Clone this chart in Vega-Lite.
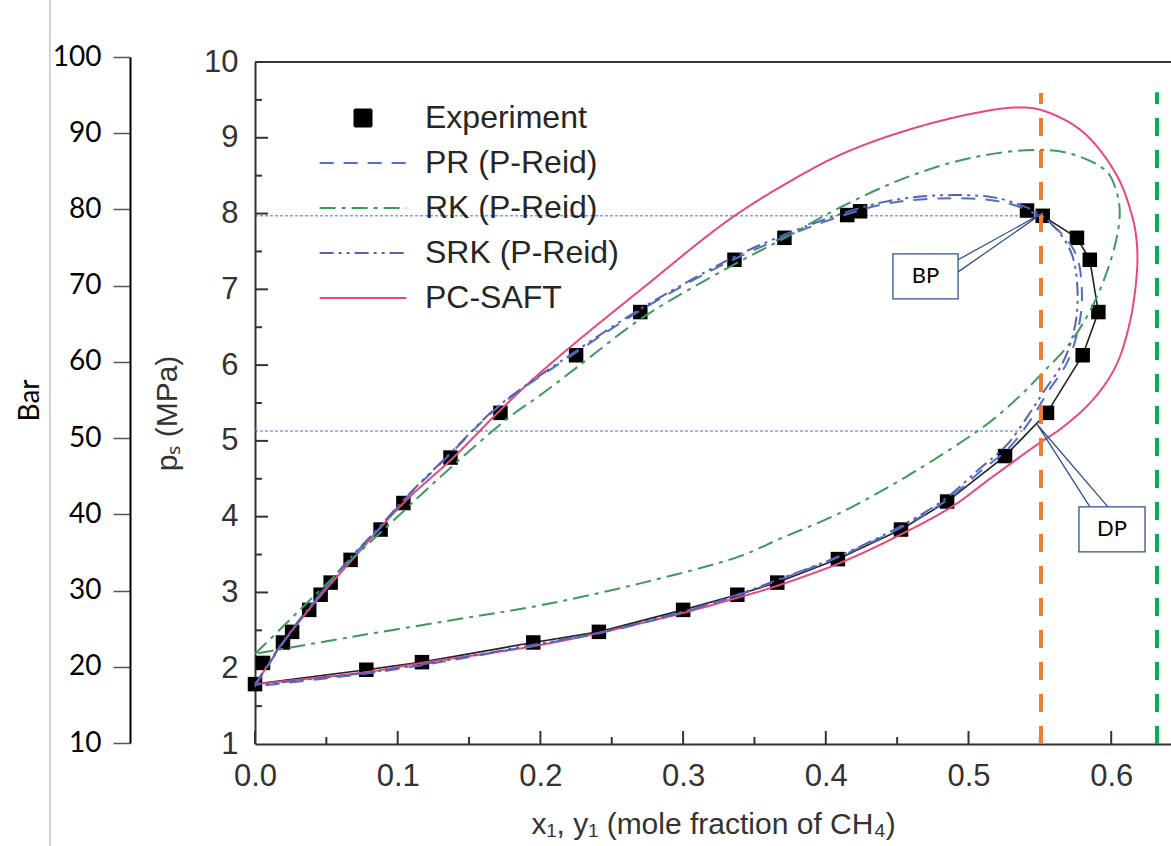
{
  "$schema": "https://vega.github.io/schema/vega-lite/v6.json",
  "width": 916,
  "height": 682,
  "autosize": {"type": "none"},
  "padding": {"left": 255, "top": 62, "right": 0, "bottom": 102},
  "background": "white",
  "config": {"view": {"stroke": null}, "font": "Liberation Sans"},
  "datasets": {
    "curves": [
      {"model": "PC-SAFT", "i": 0, "x": 0, "p": 1.79},
      {"model": "PC-SAFT", "i": 1, "x": 0.0084, "p": 2.02},
      {"model": "PC-SAFT", "i": 2, "x": 0.0196, "p": 2.34},
      {"model": "PC-SAFT", "i": 3, "x": 0.0434, "p": 2.9},
      {"model": "PC-SAFT", "i": 4, "x": 0.0666, "p": 3.4},
      {"model": "PC-SAFT", "i": 5, "x": 0.104, "p": 4.18},
      {"model": "PC-SAFT", "i": 6, "x": 0.139, "p": 4.78},
      {"model": "PC-SAFT", "i": 7, "x": 0.17, "p": 5.37},
      {"model": "PC-SAFT", "i": 8, "x": 0.194, "p": 5.8},
      {"model": "PC-SAFT", "i": 9, "x": 0.221, "p": 6.24},
      {"model": "PC-SAFT", "i": 10, "x": 0.27, "p": 6.99},
      {"model": "PC-SAFT", "i": 11, "x": 0.333, "p": 7.93},
      {"model": "PC-SAFT", "i": 12, "x": 0.38, "p": 8.48},
      {"model": "PC-SAFT", "i": 13, "x": 0.413, "p": 8.8},
      {"model": "PC-SAFT", "i": 14, "x": 0.457, "p": 9.1},
      {"model": "PC-SAFT", "i": 15, "x": 0.503, "p": 9.32},
      {"model": "PC-SAFT", "i": 16, "x": 0.534, "p": 9.4},
      {"model": "PC-SAFT", "i": 17, "x": 0.552, "p": 9.36},
      {"model": "PC-SAFT", "i": 18, "x": 0.58, "p": 9.08},
      {"model": "PC-SAFT", "i": 19, "x": 0.604, "p": 8.5},
      {"model": "PC-SAFT", "i": 20, "x": 0.615, "p": 7.94},
      {"model": "PC-SAFT", "i": 21, "x": 0.618, "p": 7.6},
      {"model": "PC-SAFT", "i": 22, "x": 0.618, "p": 7.22},
      {"model": "PC-SAFT", "i": 23, "x": 0.613, "p": 6.56},
      {"model": "PC-SAFT", "i": 24, "x": 0.603, "p": 5.98},
      {"model": "PC-SAFT", "i": 25, "x": 0.587, "p": 5.54},
      {"model": "PC-SAFT", "i": 26, "x": 0.566, "p": 5.18},
      {"model": "PC-SAFT", "i": 27, "x": 0.548, "p": 4.95},
      {"model": "PC-SAFT", "i": 28, "x": 0.515, "p": 4.5},
      {"model": "PC-SAFT", "i": 29, "x": 0.489, "p": 4.14},
      {"model": "PC-SAFT", "i": 30, "x": 0.452, "p": 3.76},
      {"model": "PC-SAFT", "i": 31, "x": 0.41, "p": 3.39},
      {"model": "PC-SAFT", "i": 32, "x": 0.363, "p": 3.07},
      {"model": "PC-SAFT", "i": 33, "x": 0.338, "p": 2.93},
      {"model": "PC-SAFT", "i": 34, "x": 0.3, "p": 2.73},
      {"model": "PC-SAFT", "i": 35, "x": 0.242, "p": 2.47},
      {"model": "PC-SAFT", "i": 36, "x": 0.195, "p": 2.29},
      {"model": "PC-SAFT", "i": 37, "x": 0.117, "p": 2.07},
      {"model": "PC-SAFT", "i": 38, "x": 0.0785, "p": 1.95},
      {"model": "PC-SAFT", "i": 39, "x": 0, "p": 1.79},
      {"model": "PR (P-Reid)", "i": 0, "x": 0, "p": 1.76},
      {"model": "PR (P-Reid)", "i": 1, "x": 0.0196, "p": 2.33},
      {"model": "PR (P-Reid)", "i": 2, "x": 0.046, "p": 2.98},
      {"model": "PR (P-Reid)", "i": 3, "x": 0.067, "p": 3.45},
      {"model": "PR (P-Reid)", "i": 4, "x": 0.088, "p": 3.86},
      {"model": "PR (P-Reid)", "i": 5, "x": 0.104, "p": 4.21},
      {"model": "PR (P-Reid)", "i": 6, "x": 0.137, "p": 4.83},
      {"model": "PR (P-Reid)", "i": 7, "x": 0.17, "p": 5.44},
      {"model": "PR (P-Reid)", "i": 8, "x": 0.226, "p": 6.18},
      {"model": "PR (P-Reid)", "i": 9, "x": 0.27, "p": 6.72},
      {"model": "PR (P-Reid)", "i": 10, "x": 0.31, "p": 7.15},
      {"model": "PR (P-Reid)", "i": 11, "x": 0.336, "p": 7.4},
      {"model": "PR (P-Reid)", "i": 12, "x": 0.371, "p": 7.69},
      {"model": "PR (P-Reid)", "i": 13, "x": 0.413, "p": 7.98},
      {"model": "PR (P-Reid)", "i": 14, "x": 0.445, "p": 8.14},
      {"model": "PR (P-Reid)", "i": 15, "x": 0.48, "p": 8.2},
      {"model": "PR (P-Reid)", "i": 16, "x": 0.515, "p": 8.18},
      {"model": "PR (P-Reid)", "i": 17, "x": 0.534, "p": 8.1},
      {"model": "PR (P-Reid)", "i": 18, "x": 0.55, "p": 7.96},
      {"model": "PR (P-Reid)", "i": 19, "x": 0.566, "p": 7.72},
      {"model": "PR (P-Reid)", "i": 20, "x": 0.576, "p": 7.43},
      {"model": "PR (P-Reid)", "i": 21, "x": 0.5795, "p": 6.9},
      {"model": "PR (P-Reid)", "i": 22, "x": 0.5767, "p": 6.46},
      {"model": "PR (P-Reid)", "i": 23, "x": 0.569, "p": 6.03},
      {"model": "PR (P-Reid)", "i": 24, "x": 0.555, "p": 5.63},
      {"model": "PR (P-Reid)", "i": 25, "x": 0.545, "p": 5.32},
      {"model": "PR (P-Reid)", "i": 26, "x": 0.529, "p": 4.92},
      {"model": "PR (P-Reid)", "i": 27, "x": 0.5085, "p": 4.6},
      {"model": "PR (P-Reid)", "i": 28, "x": 0.4849, "p": 4.22},
      {"model": "PR (P-Reid)", "i": 29, "x": 0.452, "p": 3.85},
      {"model": "PR (P-Reid)", "i": 30, "x": 0.408, "p": 3.46},
      {"model": "PR (P-Reid)", "i": 31, "x": 0.368, "p": 3.17},
      {"model": "PR (P-Reid)", "i": 32, "x": 0.338, "p": 2.96},
      {"model": "PR (P-Reid)", "i": 33, "x": 0.3, "p": 2.74},
      {"model": "PR (P-Reid)", "i": 34, "x": 0.241, "p": 2.46},
      {"model": "PR (P-Reid)", "i": 35, "x": 0.195, "p": 2.3},
      {"model": "PR (P-Reid)", "i": 36, "x": 0.117, "p": 2.04},
      {"model": "PR (P-Reid)", "i": 37, "x": 0.078, "p": 1.93},
      {"model": "PR (P-Reid)", "i": 38, "x": 0, "p": 1.76},
      {"model": "SRK (P-Reid)", "i": 0, "x": 0, "p": 1.78},
      {"model": "SRK (P-Reid)", "i": 1, "x": 0.0196, "p": 2.35},
      {"model": "SRK (P-Reid)", "i": 2, "x": 0.046, "p": 2.99},
      {"model": "SRK (P-Reid)", "i": 3, "x": 0.067, "p": 3.46},
      {"model": "SRK (P-Reid)", "i": 4, "x": 0.088, "p": 3.88},
      {"model": "SRK (P-Reid)", "i": 5, "x": 0.104, "p": 4.22},
      {"model": "SRK (P-Reid)", "i": 6, "x": 0.137, "p": 4.84},
      {"model": "SRK (P-Reid)", "i": 7, "x": 0.17, "p": 5.45},
      {"model": "SRK (P-Reid)", "i": 8, "x": 0.226, "p": 6.2},
      {"model": "SRK (P-Reid)", "i": 9, "x": 0.27, "p": 6.74},
      {"model": "SRK (P-Reid)", "i": 10, "x": 0.31, "p": 7.17},
      {"model": "SRK (P-Reid)", "i": 11, "x": 0.336, "p": 7.43},
      {"model": "SRK (P-Reid)", "i": 12, "x": 0.371, "p": 7.72},
      {"model": "SRK (P-Reid)", "i": 13, "x": 0.413, "p": 8.01},
      {"model": "SRK (P-Reid)", "i": 14, "x": 0.445, "p": 8.17},
      {"model": "SRK (P-Reid)", "i": 15, "x": 0.48, "p": 8.24},
      {"model": "SRK (P-Reid)", "i": 16, "x": 0.515, "p": 8.22},
      {"model": "SRK (P-Reid)", "i": 17, "x": 0.534, "p": 8.13},
      {"model": "SRK (P-Reid)", "i": 18, "x": 0.55, "p": 7.99},
      {"model": "SRK (P-Reid)", "i": 19, "x": 0.564, "p": 7.74},
      {"model": "SRK (P-Reid)", "i": 20, "x": 0.573, "p": 7.43},
      {"model": "SRK (P-Reid)", "i": 21, "x": 0.5765, "p": 6.9},
      {"model": "SRK (P-Reid)", "i": 22, "x": 0.574, "p": 6.46},
      {"model": "SRK (P-Reid)", "i": 23, "x": 0.566, "p": 6.03},
      {"model": "SRK (P-Reid)", "i": 24, "x": 0.552, "p": 5.63},
      {"model": "SRK (P-Reid)", "i": 25, "x": 0.542, "p": 5.34},
      {"model": "SRK (P-Reid)", "i": 26, "x": 0.527, "p": 4.95},
      {"model": "SRK (P-Reid)", "i": 27, "x": 0.507, "p": 4.62},
      {"model": "SRK (P-Reid)", "i": 28, "x": 0.484, "p": 4.24},
      {"model": "SRK (P-Reid)", "i": 29, "x": 0.451, "p": 3.86},
      {"model": "SRK (P-Reid)", "i": 30, "x": 0.408, "p": 3.47},
      {"model": "SRK (P-Reid)", "i": 31, "x": 0.368, "p": 3.18},
      {"model": "SRK (P-Reid)", "i": 32, "x": 0.338, "p": 2.97},
      {"model": "SRK (P-Reid)", "i": 33, "x": 0.3, "p": 2.75},
      {"model": "SRK (P-Reid)", "i": 34, "x": 0.241, "p": 2.47},
      {"model": "SRK (P-Reid)", "i": 35, "x": 0.195, "p": 2.31},
      {"model": "SRK (P-Reid)", "i": 36, "x": 0.117, "p": 2.05},
      {"model": "SRK (P-Reid)", "i": 37, "x": 0.078, "p": 1.94},
      {"model": "SRK (P-Reid)", "i": 38, "x": 0, "p": 1.78},
      {"model": "RK (P-Reid)", "i": 0, "x": 0, "p": 2.19},
      {"model": "RK (P-Reid)", "i": 1, "x": 0.0196, "p": 2.55},
      {"model": "RK (P-Reid)", "i": 2, "x": 0.0385, "p": 2.9},
      {"model": "RK (P-Reid)", "i": 3, "x": 0.067, "p": 3.42},
      {"model": "RK (P-Reid)", "i": 4, "x": 0.1016, "p": 4.03},
      {"model": "RK (P-Reid)", "i": 5, "x": 0.1366, "p": 4.64},
      {"model": "RK (P-Reid)", "i": 6, "x": 0.1787, "p": 5.32},
      {"model": "RK (P-Reid)", "i": 7, "x": 0.1997, "p": 5.6},
      {"model": "RK (P-Reid)", "i": 8, "x": 0.2256, "p": 5.97},
      {"model": "RK (P-Reid)", "i": 9, "x": 0.2719, "p": 6.63},
      {"model": "RK (P-Reid)", "i": 10, "x": 0.333, "p": 7.3},
      {"model": "RK (P-Reid)", "i": 11, "x": 0.3714, "p": 7.68},
      {"model": "RK (P-Reid)", "i": 12, "x": 0.41, "p": 8.08},
      {"model": "RK (P-Reid)", "i": 13, "x": 0.457, "p": 8.48},
      {"model": "RK (P-Reid)", "i": 14, "x": 0.503, "p": 8.74},
      {"model": "RK (P-Reid)", "i": 15, "x": 0.55, "p": 8.84},
      {"model": "RK (P-Reid)", "i": 16, "x": 0.575, "p": 8.77},
      {"model": "RK (P-Reid)", "i": 17, "x": 0.597, "p": 8.55},
      {"model": "RK (P-Reid)", "i": 18, "x": 0.604, "p": 8.27},
      {"model": "RK (P-Reid)", "i": 19, "x": 0.606, "p": 8.0},
      {"model": "RK (P-Reid)", "i": 20, "x": 0.603, "p": 7.61},
      {"model": "RK (P-Reid)", "i": 21, "x": 0.594, "p": 7.08},
      {"model": "RK (P-Reid)", "i": 22, "x": 0.583, "p": 6.64},
      {"model": "RK (P-Reid)", "i": 23, "x": 0.569, "p": 6.24},
      {"model": "RK (P-Reid)", "i": 24, "x": 0.554, "p": 5.94},
      {"model": "RK (P-Reid)", "i": 25, "x": 0.538, "p": 5.63},
      {"model": "RK (P-Reid)", "i": 26, "x": 0.515, "p": 5.25},
      {"model": "RK (P-Reid)", "i": 27, "x": 0.461, "p": 4.58},
      {"model": "RK (P-Reid)", "i": 28, "x": 0.41, "p": 4.05},
      {"model": "RK (P-Reid)", "i": 29, "x": 0.368, "p": 3.71},
      {"model": "RK (P-Reid)", "i": 30, "x": 0.34, "p": 3.48},
      {"model": "RK (P-Reid)", "i": 31, "x": 0.27, "p": 3.12},
      {"model": "RK (P-Reid)", "i": 32, "x": 0.2, "p": 2.83},
      {"model": "RK (P-Reid)", "i": 33, "x": 0.1367, "p": 2.63},
      {"model": "RK (P-Reid)", "i": 34, "x": 0.0666, "p": 2.41},
      {"model": "RK (P-Reid)", "i": 35, "x": 0, "p": 2.19}
    ],
    "experiment": [
      {"model": "Experiment", "branch": "dew", "i": 0, "x": 0, "p": 1.79},
      {"model": "Experiment", "branch": "bubble", "i": 0, "x": 0.0056, "p": 2.07},
      {"model": "Experiment", "branch": "bubble", "i": 0, "x": 0.0196, "p": 2.34},
      {"model": "Experiment", "branch": "bubble", "i": 0, "x": 0.026, "p": 2.48},
      {"model": "Experiment", "branch": "bubble", "i": 0, "x": 0.038, "p": 2.77},
      {"model": "Experiment", "branch": "bubble", "i": 0, "x": 0.046, "p": 2.97},
      {"model": "Experiment", "branch": "bubble", "i": 0, "x": 0.053, "p": 3.13},
      {"model": "Experiment", "branch": "bubble", "i": 0, "x": 0.067, "p": 3.43},
      {"model": "Experiment", "branch": "bubble", "i": 0, "x": 0.088, "p": 3.83},
      {"model": "Experiment", "branch": "bubble", "i": 0, "x": 0.104, "p": 4.18},
      {"model": "Experiment", "branch": "bubble", "i": 0, "x": 0.137, "p": 4.78},
      {"model": "Experiment", "branch": "bubble", "i": 0, "x": 0.172, "p": 5.37},
      {"model": "Experiment", "branch": "bubble", "i": 0, "x": 0.225, "p": 6.13},
      {"model": "Experiment", "branch": "bubble", "i": 0, "x": 0.27, "p": 6.7},
      {"model": "Experiment", "branch": "bubble", "i": 0, "x": 0.336, "p": 7.39},
      {"model": "Experiment", "branch": "bubble", "i": 0, "x": 0.371, "p": 7.68},
      {"model": "Experiment", "branch": "bubble", "i": 0, "x": 0.415, "p": 7.98},
      {"model": "Experiment", "branch": "bubble", "i": 0, "x": 0.424, "p": 8.03},
      {"model": "Experiment", "branch": "bubble", "i": 0, "x": 0.541, "p": 8.04},
      {"model": "Experiment", "branch": "dew", "i": 1, "x": 0.078, "p": 1.98},
      {"model": "Experiment", "branch": "dew", "i": 2, "x": 0.117, "p": 2.08},
      {"model": "Experiment", "branch": "dew", "i": 3, "x": 0.195, "p": 2.34},
      {"model": "Experiment", "branch": "dew", "i": 4, "x": 0.241, "p": 2.48},
      {"model": "Experiment", "branch": "dew", "i": 5, "x": 0.3, "p": 2.77},
      {"model": "Experiment", "branch": "dew", "i": 6, "x": 0.338, "p": 2.97},
      {"model": "Experiment", "branch": "dew", "i": 7, "x": 0.366, "p": 3.13},
      {"model": "Experiment", "branch": "dew", "i": 8, "x": 0.4085, "p": 3.44},
      {"model": "Experiment", "branch": "dew", "i": 9, "x": 0.4527, "p": 3.83},
      {"model": "Experiment", "branch": "dew", "i": 10, "x": 0.485, "p": 4.2},
      {"model": "Experiment", "branch": "dew", "i": 11, "x": 0.5256, "p": 4.8},
      {"model": "Experiment", "branch": "dew", "i": 12, "x": 0.555, "p": 5.37},
      {"model": "Experiment", "branch": "dew", "i": 13, "x": 0.58, "p": 6.13},
      {"model": "Experiment", "branch": "dew", "i": 14, "x": 0.591, "p": 6.7},
      {"model": "Experiment", "branch": "dew", "i": 15, "x": 0.585, "p": 7.39},
      {"model": "Experiment", "branch": "dew", "i": 16, "x": 0.576, "p": 7.68},
      {"model": "Experiment", "branch": "dew", "i": 17, "x": 0.552, "p": 7.97}
    ],
    "hlines": [
      {"x": 0, "xe": 0.552, "p": 7.97},
      {"x": 0, "xe": 0.54, "p": 5.13}
    ],
    "vlines": [
      {"line": "orange", "x": 0.5508, "p": 1, "pe": 9.59},
      {"line": "green", "x": 0.6321, "p": 1, "pe": 9.6}
    ],
    "frame": [{"x": 0, "xe": 0.6419, "p": 10}],
    "edge": [{"x": -0.1437, "p": 10.82, "pe": -0.35}],
    "callouts": [
      {"note": "BP", "i": 0, "x": 0.4927, "p": 7.39},
      {"note": "BP", "i": 1, "x": 0.5522, "p": 8.01},
      {"note": "BP", "i": 2, "x": 0.4927, "p": 7.23},
      {"note": "DP", "i": 0, "x": 0.5851, "p": 4.13},
      {"note": "DP", "i": 1, "x": 0.548, "p": 5.22},
      {"note": "DP", "i": 2, "x": 0.5977, "p": 4.13}
    ],
    "boxes": [
      {"note": "BP", "x": 0.447, "xe": 0.4927, "p": 6.873, "pe": 7.467},
      {"note": "DP", "x": 0.5774, "xe": 0.6237, "p": 3.536, "pe": 4.13}
    ],
    "labels": [
      {"note": "BP", "x": 0.4699, "p": 7.17},
      {"note": "DP", "x": 0.6006, "p": 3.833}
    ],
    "barTicks": [{"bar": 10}, {"bar": 100}],
    "xTicks": [
      {"x": 0, "p": 1, "kind": "major"}, {"x": 0.05, "p": 1, "kind": "minor"},
      {"x": 0.1, "p": 1, "kind": "major"}, {"x": 0.15, "p": 1, "kind": "minor"},
      {"x": 0.2, "p": 1, "kind": "major"}, {"x": 0.25, "p": 1, "kind": "minor"},
      {"x": 0.3, "p": 1, "kind": "major"}, {"x": 0.35, "p": 1, "kind": "minor"},
      {"x": 0.4, "p": 1, "kind": "major"}, {"x": 0.45, "p": 1, "kind": "minor"},
      {"x": 0.5, "p": 1, "kind": "major"}, {"x": 0.55, "p": 1, "kind": "minor"},
      {"x": 0.6, "p": 1, "kind": "major"}
    ],
    "yTicks": [
      {"x": 0, "p": 1.5, "kind": "minor"}, {"x": 0, "p": 2, "kind": "major"},
      {"x": 0, "p": 2.5, "kind": "minor"}, {"x": 0, "p": 3, "kind": "major"},
      {"x": 0, "p": 3.5, "kind": "minor"}, {"x": 0, "p": 4, "kind": "major"},
      {"x": 0, "p": 4.5, "kind": "minor"}, {"x": 0, "p": 5, "kind": "major"},
      {"x": 0, "p": 5.5, "kind": "minor"}, {"x": 0, "p": 6, "kind": "major"},
      {"x": 0, "p": 6.5, "kind": "minor"}, {"x": 0, "p": 7, "kind": "major"},
      {"x": 0, "p": 7.5, "kind": "minor"}, {"x": 0, "p": 8, "kind": "major"},
      {"x": 0, "p": 8.5, "kind": "minor"}, {"x": 0, "p": 9, "kind": "major"},
      {"x": 0, "p": 9.5, "kind": "minor"}
    ]
  },
  "layer": [
    {
      "encoding": {
        "x": {
          "field": "x", "type": "quantitative",
          "scale": {"domain": [0, 0.6419], "nice": false, "zero": false},
          "axis": {
            "values": [0, 0.1, 0.2, 0.3, 0.4, 0.5, 0.6],
            "format": ".1f",
            "ticks": false,
            "domainColor": "#333333", "domainWidth": 2,
            "labelFont": "Liberation Sans", "labelFontSize": 31, "labelColor": "#333333",
            "labelPadding": 17, "labelFlush": false, "labelOverlap": false,
            "grid": false,
            "title": "x₁, y₁ (mole fraction of CH₄)",
            "titleFont": "Liberation Sans", "titleFontSize": 30, "titleFontWeight": "normal",
            "titleColor": "#333333", "titleY": 89, "titleBaseline": "alphabetic"
          }
        },
        "y": {
          "field": "p", "type": "quantitative",
          "scale": {"domain": [1, 10], "nice": false, "zero": false},
          "axis": {
            "values": [1, 2, 3, 4, 5, 6, 7, 8, 9, 10],
            "format": "d",
            "ticks": false,
            "domainColor": "#333333", "domainWidth": 2,
            "labelFont": "Liberation Sans", "labelFontSize": 31, "labelColor": "#333333",
            "labelPadding": 17, "labelFlush": false, "labelOverlap": false,
            "grid": false,
            "title": "pₛ (MPa)",
            "titleFont": "Liberation Sans", "titleFontSize": 30, "titleFontWeight": "normal",
            "titleColor": "#333333", "titleX": -88, "titleY": 351, "titleBaseline": "middle"
          }
        }
      },
      "layer": [
        {
          "data": {"name": "edge"},
          "mark": {"type": "rule", "color": "#c4c4c4", "strokeWidth": 1.5, "clip": false},
          "encoding": {"y2": {"field": "pe"}}
        },
        {
          "data": {"name": "frame"},
          "mark": {"type": "rule", "color": "#333333", "strokeWidth": 2, "clip": false},
          "encoding": {"x2": {"field": "xe"}}
        },
        {
          "data": {"name": "xTicks"},
          "transform": [{"filter": "datum.kind === 'major'"}],
          "mark": {"type": "tick", "orient": "vertical", "size": 13, "thickness": 2, "yOffset": -6.5, "color": "#333333", "opacity": 1},
          "encoding": {}
        },
        {
          "data": {"name": "xTicks"},
          "transform": [{"filter": "datum.kind === 'minor'"}],
          "mark": {"type": "tick", "orient": "vertical", "size": 7, "thickness": 2, "yOffset": -3.5, "color": "#333333", "opacity": 1},
          "encoding": {}
        },
        {
          "data": {"name": "yTicks"},
          "transform": [{"filter": "datum.kind === 'major'"}],
          "mark": {"type": "tick", "orient": "horizontal", "size": 13, "thickness": 2, "xOffset": 6.5, "color": "#333333", "opacity": 1},
          "encoding": {}
        },
        {
          "data": {"name": "yTicks"},
          "transform": [{"filter": "datum.kind === 'minor'"}],
          "mark": {"type": "tick", "orient": "horizontal", "size": 7, "thickness": 2, "xOffset": 3.5, "color": "#333333", "opacity": 1},
          "encoding": {}
        },
        {
          "data": {"name": "hlines"},
          "mark": {"type": "rule", "color": "#4472c4", "strokeWidth": 1, "strokeDash": [3, 2]},
          "encoding": {"x2": {"field": "xe"}}
        },
        {
          "data": {"name": "experiment"},
          "transform": [{"filter": "datum.branch === 'dew'"}],
          "mark": {"type": "line", "color": "#222222", "strokeWidth": 1.6},
          "encoding": {"order": {"field": "i", "type": "quantitative"}}
        },
        {
          "data": {"name": "experiment"},
          "mark": {"type": "point", "shape": "square", "filled": true, "size": 210, "opacity": 1},
          "encoding": {
            "color": {"field": "model", "type": "nominal"}
          }
        },
        {
          "data": {"name": "curves"},
          "mark": {"type": "line", "strokeWidth": 2, "strokeCap": "butt", "interpolate": "catmull-rom"},
          "encoding": {
            "order": {"field": "i", "type": "quantitative"},
            "color": {
              "field": "model", "type": "nominal",
              "scale": {
                "domain": ["Experiment", "PR (P-Reid)", "RK (P-Reid)", "SRK (P-Reid)", "PC-SAFT"],
                "range": ["#000000", "#4a72c8", "#3c9a5c", "#5c5fb0", "#e8467c"]
              },
              "legend": {
                "orient": "none", "legendX": 92, "legendY": 40,
                "title": null, "padding": 0,
                "labelFont": "Liberation Sans", "labelFontSize": 32, "labelColor": "#262626",
                "labelOffset": 46, "labelLimit": 400,
                "symbolSize": 289, "symbolStrokeWidth": 2, "rowPadding": 13,
                "encode": {
                  "symbols": {
                    "update": {
                      "shape": {"signal": "datum.value === 'Experiment' ? 'square' : 'M-5.1,0H5.1'"},
                      "fill": {"signal": "datum.value === 'Experiment' ? '#000000' : 'transparent'"},
                      "stroke": {"signal": "datum.value === 'Experiment' ? 'transparent' : datum.value === 'PR (P-Reid)' ? '#4a72c8' : datum.value === 'RK (P-Reid)' ? '#3c9a5c' : datum.value === 'SRK (P-Reid)' ? '#5c5fb0' : '#e8467c'"},
                      "strokeDash": {"signal": "datum.value === 'PR (P-Reid)' ? [14, 10] : datum.value === 'RK (P-Reid)' ? [16, 6, 4, 6] : datum.value === 'SRK (P-Reid)' ? [14, 5, 3, 5, 3, 5] : [1, 0]"},
                      "strokeWidth": {"value": 2},
                      "opacity": {"value": 1}
                    }
                  }
                }
              }
            },
            "strokeDash": {
              "field": "model", "type": "nominal",
              "scale": {
                "domain": ["PR (P-Reid)", "RK (P-Reid)", "SRK (P-Reid)", "PC-SAFT"],
                "range": [[14, 10], [16, 6, 4, 6], [14, 5, 3, 5, 3, 5], [1, 0]]
              },
              "legend": null
            }
          }
        },
        {
          "data": {"name": "vlines"},
          "transform": [{"filter": "datum.line === 'orange'"}],
          "mark": {"type": "rule", "color": "#ed7d31", "strokeWidth": 4, "strokeDash": [18, 14]},
          "encoding": {"y2": {"field": "pe"}}
        },
        {
          "data": {"name": "vlines"},
          "transform": [{"filter": "datum.line === 'green'"}],
          "mark": {"type": "rule", "color": "#00b050", "strokeWidth": 4, "strokeDash": [18, 14]},
          "encoding": {"y2": {"field": "pe"}}
        },
        {
          "data": {"name": "callouts"},
          "mark": {"type": "line", "color": "#2f528f", "strokeWidth": 1.3},
          "encoding": {
            "order": {"field": "i", "type": "quantitative"},
            "detail": {"field": "note", "type": "nominal"}
          }
        },
        {
          "data": {"name": "boxes"},
          "mark": {"type": "rect", "fill": "white", "stroke": "#2f528f", "strokeWidth": 1.3},
          "encoding": {"x2": {"field": "xe"}, "y2": {"field": "pe"}}
        },
        {
          "data": {"name": "labels"},
          "mark": {"type": "text", "font": "Lato", "fontSize": 22, "color": "#000000", "align": "center", "baseline": "middle"},
          "encoding": {"text": {"field": "note", "type": "nominal"}}
        }
      ]
    },
    {
      "data": {"name": "barTicks"},
      "mark": {"type": "point", "opacity": 0},
      "encoding": {
        "y": {
          "field": "bar", "type": "quantitative",
          "scale": {"domain": [10, 100], "range": [681, -5], "nice": false, "zero": false},
          "axis": {
            "orient": "left", "offset": 125,
            "values": [10, 20, 30, 40, 50, 60, 70, 80, 90, 100],
            "tickSize": 17, "tickColor": "#555555", "tickWidth": 1.5,
            "domainColor": "#000000", "domainWidth": 2,
            "labelFont": "Lato", "labelFontSize": 28, "labelColor": "#000000", "labelPadding": 12,
            "labelOverlap": false, "labelFlush": false,
            "grid": false,
            "title": "Bar", "titleFont": "Lato", "titleFontSize": 28, "titleFontWeight": "normal",
            "titleColor": "#000000", "titlePadding": 8
          }
        }
      }
    }
  ],
  "resolve": {"scale": {"y": "independent"}}
}
